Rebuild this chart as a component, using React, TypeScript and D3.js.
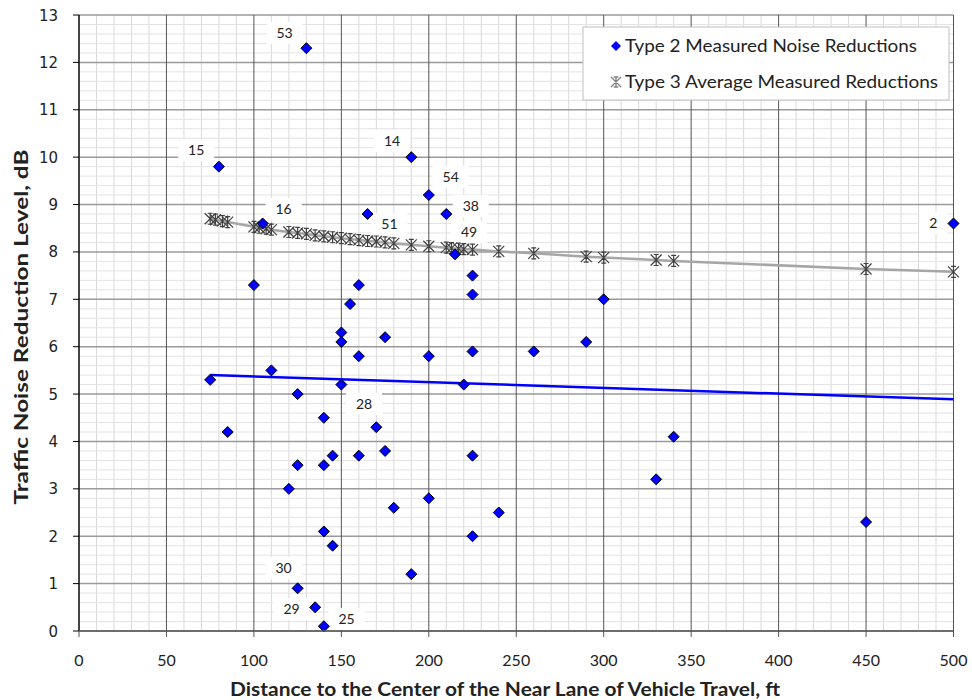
import React from 'react';
import * as d3 from 'd3';

// ---- data ----
const type2X = [75, 80, 85, 100, 105, 110, 120, 125, 125, 125, 130, 135, 140, 140, 140, 140, 145, 145, 150, 150, 150, 155, 160, 160, 160, 165, 170, 175, 175, 180, 190, 190, 200, 200, 200, 210, 215, 220, 225, 225, 225, 225, 225, 240, 260, 290, 300, 330, 340, 450, 500];
const type2Y = [5.3, 9.8, 4.2, 7.3, 8.6, 5.5, 3.0, 5.0, 3.5, 0.9, 12.3, 0.5, 4.5, 3.5, 2.1, 0.1, 3.7, 1.8, 6.3, 6.1, 5.2, 6.9, 7.3, 5.8, 3.7, 8.8, 4.3, 6.2, 3.8, 2.6, 10.0, 1.2, 9.2, 5.8, 2.8, 8.8, 7.95, 5.2, 7.5, 7.1, 5.9, 3.7, 2.0, 2.5, 5.9, 6.1, 7.0, 3.2, 4.1, 2.3, 8.6];

const type3X = [75, 78, 82, 85, 100, 103, 107, 110, 120, 125, 130, 135, 140, 145, 150, 155, 160, 165, 170, 175, 180, 190, 200, 210, 213, 217, 220, 225, 240, 260, 290, 300, 330, 340, 450, 500];
const type3Y = [8.70, 8.68, 8.65, 8.63, 8.53, 8.51, 8.49, 8.47, 8.42, 8.40, 8.38, 8.35, 8.33, 8.31, 8.29, 8.27, 8.25, 8.23, 8.22, 8.20, 8.18, 8.15, 8.12, 8.09, 8.08, 8.07, 8.06, 8.05, 8.01, 7.97, 7.90, 7.88, 7.83, 7.81, 7.64, 7.58];

const trendX = [75, 500];
const trendY = [5.4, 4.89];

const labelText = ['53', '15', '16', '14', '54', '38', '51', '49', '28', '30', '29', '25', '2'];
const labelX = [117.5, 67, 117, 179, 212.5, 224, 177.5, 223, 163, 117, 121.5, 153, 488.5];
const labelY = [12.62, 10.15, 8.9, 10.34, 9.58, 8.97, 8.59, 8.42, 4.79, 1.33, 0.46, 0.25, 8.61];

const xTicks = [0, 50, 100, 150, 200, 250, 300, 350, 400, 450, 500];
const yTicks = [0, 1, 2, 3, 4, 5, 6, 7, 8, 9, 10, 11, 12, 13];

const legendLabels = ['Type 2 Measured Noise Reductions', 'Type 3 Average Measured Reductions'];
const xTitle = 'Distance to the Center of the Near Lane of Vehicle Travel, ft';
const yTitle = 'Traffic Noise Reduction Level, dB';

// ---- layout ----
const W = 972, H = 700;
const L = 79, R = 953.5, T = 15, B = 631;
const FONT = 'Lato, "Open Sans", sans-serif';

function starPath(cx: number, cy: number, r: number) {
  const b = r * 0.45;
  return `M${cx - r},${cy - r}L${cx + r},${cy + r}M${cx - r},${cy + r}L${cx + r},${cy - r}` +
    `M${cx},${cy - r}L${cx},${cy + r}` +
    `M${cx - b},${cy - r}L${cx + b},${cy - r}M${cx - b},${cy + r}L${cx + b},${cy + r}`;
}
function diamondPath(cx: number, cy: number, r: number) {
  return `M${cx},${cy - r}L${cx + r},${cy}L${cx},${cy + r}L${cx - r},${cy}Z`;
}

export default function App() {
  const x = d3.scaleLinear().domain([0, 500]).range([L, R]);
  const y = d3.scaleLinear().domain([0, 13]).range([B, T]);

  const minorX = d3.range(0, 501, 10).filter((v) => v % 50 !== 0);
  const minorY = d3.range(0, 65, 1).map((i) => i / 5).filter((v) => Math.abs(v - Math.round(v)) > 1e-6);

  const t3 = type3X.map((v, i) => [v, type3Y[i]] as [number, number]);
  const t2 = type2X.map((v, i) => [v, type2Y[i]] as [number, number]);
  const line = d3.line<[number, number]>().x((d) => x(d[0])).y((d) => y(d[1]));
  const trend = trendX.map((v, i) => [v, trendY[i]] as [number, number]);

  return (
    <svg width={W} height={H} style={{ position: 'absolute', left: 0, top: 0, background: '#fff' }}>
      <rect x={0} y={0} width={W} height={H} fill="#fff" />
      {/* minor grid */}
      {minorX.map((v) => (
        <line key={'mx' + v} x1={x(v)} x2={x(v)} y1={T} y2={B} stroke="#d9d9d9" strokeWidth={1} />
      ))}
      {minorY.map((v) => (
        <line key={'my' + v} x1={L} x2={R} y1={y(v)} y2={y(v)} stroke="#e3e3e3" strokeWidth={1} />
      ))}
      {/* major grid */}
      {yTicks.map((v) => (
        <line key={'gy' + v} x1={L} x2={R} y1={y(v)} y2={y(v)} stroke="#9a9a9a" strokeWidth={1.5} />
      ))}
      {xTicks.map((v) => (
        <line key={'gx' + v} x1={x(v)} x2={x(v)} y1={T} y2={B} stroke="#555" strokeWidth={1} />
      ))}
      {/* labels */}
      {labelText.map((t, i) => {
        const w = t.length * 8 + 20;
        return (
          <g key={'lb' + i}>
            <rect x={x(labelX[i]) - w / 2} y={y(labelY[i]) - 11} width={w} height={22} fill="#fff" />
            <text x={x(labelX[i])} y={y(labelY[i]) + 5} textAnchor="middle" fontFamily={FONT} fontSize={14} fill="#222">{t}</text>
          </g>
        );
      })}
      {/* trend lines */}
      <path d={line(t3) || ''} fill="none" stroke="#a6a6a6" strokeWidth={2.5} />
      <path d={line(trend) || ''} fill="none" stroke="#0000ff" strokeWidth={2.5} />
      {/* type 3 stars */}
      {t3.map((d, i) => (
        <path key={'s' + i} d={starPath(x(d[0]), y(d[1]), 5.5)} fill="none" stroke="#404040" strokeWidth={1.2} />
      ))}
      {/* type 2 diamonds */}
      {t2.map((d, i) => (
        <path key={'d' + i} d={diamondPath(x(d[0]), y(d[1]), 5.5)} fill="#0000ff" stroke="#000" strokeWidth={1} />
      ))}
      {/* axes */}
      <line x1={L} x2={L} y1={T} y2={B} stroke="#000" strokeWidth={1.2} />
      <line x1={L} x2={R} y1={B} y2={B} stroke="#555" strokeWidth={1.5} />
      {yTicks.map((v) => (
        <g key={'ty' + v}>
          <line x1={L - 6} x2={L} y1={y(v)} y2={y(v)} stroke="#000" strokeWidth={1} />
          <text x={L - 21} y={y(v) + 5.5} textAnchor="end" fontFamily='"DejaVu Sans", Verdana, sans-serif' fontSize={15} fill="#222">{v}</text>
        </g>
      ))}
      {xTicks.map((v) => (
        <g key={'tx' + v}>
          <line x1={x(v)} x2={x(v)} y1={B} y2={B + 6} stroke="#555" strokeWidth={1} />
          <text x={x(v)} y={B + 35} textAnchor="middle" fontFamily={FONT} fontSize={16} fill="#222">{v}</text>
        </g>
      ))}
      {/* axis titles */}
      <text x={505} y={696} textAnchor="middle" fontFamily={FONT} fontWeight="bold" fontSize={18} textLength={550} lengthAdjust="spacingAndGlyphs" fill="#222">{xTitle}</text>
      <text transform={`translate(28,${(T + B) / 2 + 4}) rotate(-90)`} textAnchor="middle" fontFamily={FONT} fontWeight="bold" fontSize={18} textLength={355} lengthAdjust="spacingAndGlyphs" fill="#222">{yTitle}</text>
      {/* legend */}
      <rect x={583} y={27} width={366} height={73} fill="#fff" stroke="#bfbfbf" strokeWidth={1} />
      <path d={diamondPath(616, 46, 5)} fill="#0000ff" stroke="none" />
      <text x={625} y={52} fontFamily={FONT} fontSize={17} textLength={292} lengthAdjust="spacingAndGlyphs" fill="#222">{legendLabels[0]}</text>
      <path d={starPath(616, 82, 5)} fill="none" stroke="#808080" strokeWidth={1.3} />
      <text x={625} y={88} fontFamily={FONT} fontSize={17} textLength={313} lengthAdjust="spacingAndGlyphs" fill="#222">{legendLabels[1]}</text>
    </svg>
  );
}
